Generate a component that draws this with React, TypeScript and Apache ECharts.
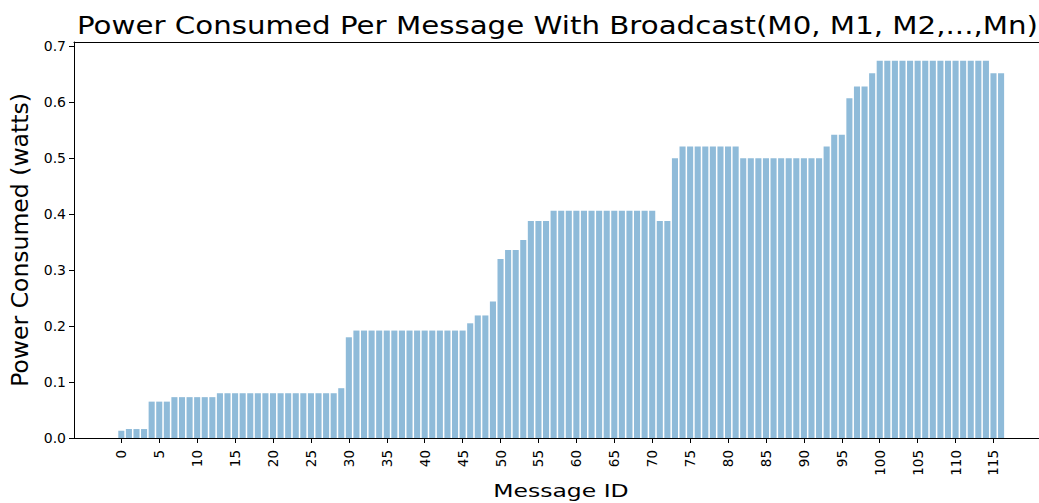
import React, { useEffect, useRef } from "react";
import * as echarts from "echarts";

// Power consumed (watts) per message, message IDs 0..116
const powerValues: number[] = [
  0.013,
  0.016, 0.016, 0.016,
  0.065, 0.065, 0.065,
  0.073, 0.073, 0.073, 0.073, 0.073, 0.073,
  0.08, 0.08, 0.08, 0.08, 0.08, 0.08, 0.08, 0.08,
  0.08, 0.08, 0.08, 0.08, 0.08, 0.08, 0.08, 0.08,
  0.089,
  0.18,
  0.192, 0.192, 0.192, 0.192, 0.192, 0.192, 0.192, 0.192,
  0.192, 0.192, 0.192, 0.192, 0.192, 0.192, 0.192,
  0.205,
  0.219, 0.219,
  0.244,
  0.32,
  0.336, 0.336,
  0.354,
  0.388, 0.388, 0.388,
  0.406, 0.406, 0.406, 0.406, 0.406, 0.406, 0.406,
  0.406, 0.406, 0.406, 0.406, 0.406, 0.406, 0.406,
  0.388, 0.388,
  0.5,
  0.521, 0.521, 0.521, 0.521, 0.521, 0.521, 0.521, 0.521,
  0.5, 0.5, 0.5, 0.5, 0.5, 0.5, 0.5, 0.5, 0.5, 0.5, 0.5,
  0.521,
  0.542, 0.542,
  0.607,
  0.628, 0.628,
  0.652,
  0.674, 0.674, 0.674, 0.674, 0.674, 0.674, 0.674, 0.674,
  0.674, 0.674, 0.674, 0.674, 0.674, 0.674, 0.674,
  0.652, 0.652,
];

const messageIds: number[] = powerValues.map((_, i) => i);

const xTickValues: number[] = [
  0, 5, 10, 15, 20, 25, 30, 35, 40, 45, 50, 55, 60, 65, 70, 75, 80, 85, 90, 95,
  100, 105, 110, 115,
];
const yTickValues: number[] = [0, 0.1, 0.2, 0.3, 0.4, 0.5, 0.6, 0.7];

const TITLE = "Power Consumed Per Message With Broadcast(M0, M1, M2,...,Mn)";
const X_NAME = "Message ID";
const Y_NAME = "Power Consumed (watts)";

const FONT = "DejaVu Sans";

export default function App() {
  const ref = useRef<HTMLDivElement>(null);

  useEffect(() => {
    if (!ref.current) return;
    const chart = echarts.init(ref.current, undefined, { renderer: "svg" });

    const n = powerValues.length;
    const xMin = -0.4 - 0.05 * (n - 1 + 0.8);
    const xMax = 121;
    const yMax = Math.max(...powerValues) * 1.05;

    const axisLineStyle = { color: "#000000", width: 1 };

    chart.setOption({
      animation: false,
      backgroundColor: "#ffffff",
      graphic: [
        {
          type: "text",
          x: 557.5,
          y: 13,
          scaleX: 1.22,
          style: {
            text: TITLE,
            fontFamily: FONT,
            fontSize: 24,
            fill: "#000000",
            align: "center",
            verticalAlign: "top",
          },
        },
        {
          type: "text",
          x: 561,
          y: 481,
          scaleX: 1.27,
          style: {
            text: X_NAME,
            fontFamily: FONT,
            fontSize: 18.5,
            fill: "#000000",
            align: "center",
            verticalAlign: "top",
          },
        },
      ],
      grid: {
        left: 72,
        right: 0,
        top: 42,
        bottom: 65,
      },
      xAxis: [
        {
          type: "value",
          min: xMin,
          max: xMax,
          axisLine: { show: true, onZero: false, lineStyle: axisLineStyle },
          axisTick: {
            show: true,
            length: 5,
            customValues: xTickValues,
            lineStyle: axisLineStyle,
          },
          axisLabel: {
            customValues: xTickValues,
            rotate: 90,
            margin: 12,
            fontFamily: FONT,
            fontSize: 13.5,
            color: "#000000",
          },
          splitLine: { show: false },
        },
        {
          type: "value",
          position: "top",
          min: xMin,
          max: xMax,
          axisLine: { show: true, onZero: false, lineStyle: axisLineStyle },
          axisTick: { show: false },
          axisLabel: { show: false },
          splitLine: { show: false },
        },
      ],
      yAxis: {
        type: "value",
        min: 0,
        max: yMax,
        name: Y_NAME,
        nameLocation: "middle",
        nameGap: 42,
        nameTextStyle: { fontFamily: FONT, fontSize: 23.5, color: "#000000" },
        axisLine: { show: true, onZero: false, lineStyle: axisLineStyle },
        axisTick: {
          show: true,
          length: 5,
          customValues: yTickValues,
          lineStyle: axisLineStyle,
        },
        axisLabel: {
          customValues: yTickValues,
          margin: 8,
          fontFamily: FONT,
          fontSize: 14,
          color: "#000000",
          formatter: (v: number) => v.toFixed(1),
        },
        splitLine: { show: false },
      },
      series: [
        {
          type: "bar",
          xAxisIndex: 0,
          data: messageIds.map((id, i) => [id, powerValues[i]]),
          barWidth: 6.08,
          itemStyle: { color: "#8fbbd9" },
        },
      ],
    });

    return () => chart.dispose();
  }, []);

  return (
    <div
      ref={ref}
      style={{ position: "absolute", left: 0, top: 0, width: 1039, height: 503 }}
    />
  );
}
